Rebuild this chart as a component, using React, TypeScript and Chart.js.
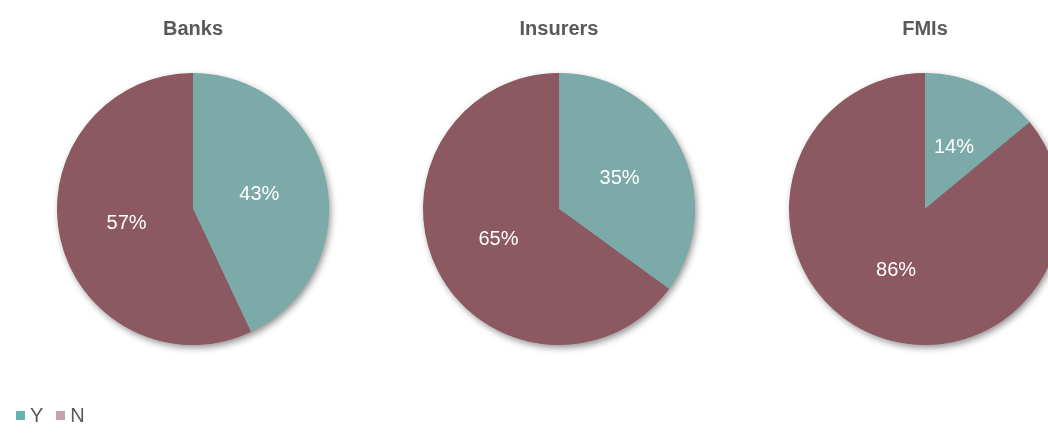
import React, { useEffect, useRef } from "react";
import { Chart, registerables } from "chart.js";

Chart.register(...registerables);

const categories = ["Y", "N"];
const panelTitles = ["Banks", "Insurers", "FMIs"];
const banksValues = [43, 57];
const insurersValues = [35, 65];
const fmisValues = [14, 86];
const panelValues = [banksValues, insurersValues, fmisValues];

const sliceColors = ["#7BAAA8", "#8C5862"];
const legendColors = ["#63B4B0", "#C8A0B2"];
const textGray = "#595959";
const FONT = "'Liberation Sans', Arial, sans-serif";

const PANEL_W = 366;
const PANEL_H = 433;
const PANEL_LEFT = 10;

function PiePanel({ title, values }: { title: string; values: number[] }) {
  const ref = useRef<HTMLCanvasElement | null>(null);
  useEffect(() => {
    if (!ref.current) return;
    const shadowPlugin = {
      id: "pieShadow",
      beforeDatasetsDraw(chart: any) {
        const arc = chart.getDatasetMeta(0).data[0];
        if (!arc) return;
        const { x, y, outerRadius } = arc.getProps(["x", "y", "outerRadius"], true);
        const ctx = chart.ctx;
        ctx.save();
        ctx.shadowColor = "rgba(0,0,0,0.45)";
        ctx.shadowBlur = 7;
        ctx.shadowOffsetX = 2;
        ctx.shadowOffsetY = 3;
        ctx.beginPath();
        ctx.arc(x, y, outerRadius - 0.5, 0, Math.PI * 2);
        ctx.fillStyle = sliceColors[1];
        ctx.fill();
        ctx.restore();
      },
    };
    const labelPlugin = {
      id: "pieLabels",
      afterDatasetsDraw(chart: any) {
        const ctx = chart.ctx;
        const meta = chart.getDatasetMeta(0);
        const data = chart.data.datasets[0].data as number[];
        ctx.save();
        ctx.fillStyle = "#FFFFFF";
        ctx.font = `20px ${FONT}`;
        ctx.textAlign = "center";
        ctx.textBaseline = "middle";
        meta.data.forEach((el: any, i: number) => {
          const p = el.getProps(["x", "y", "startAngle", "endAngle", "outerRadius"], true);
          const mid = (p.startAngle + p.endAngle) / 2;
          const r = p.outerRadius * 0.5;
          ctx.fillText(`${data[i]}%`, p.x + Math.cos(mid) * r, p.y + Math.sin(mid) * r);
        });
        ctx.restore();
      },
    };
    const titlePlugin = {
      id: "panelTitle",
      afterDraw(chart: any) {
        const ctx = chart.ctx;
        const area = chart.chartArea;
        ctx.save();
        ctx.fillStyle = textGray;
        ctx.font = `bold 20px ${FONT}`;
        ctx.textAlign = "center";
        ctx.textBaseline = "middle";
        ctx.fillText(title, (area.left + area.right) / 2, 29);
        ctx.restore();
      },
    };
    const chart = new Chart(ref.current, {
      type: "pie",
      data: {
        labels: categories,
        datasets: [
          {
            data: values,
            backgroundColor: sliceColors,
            borderWidth: 0,
          },
        ],
      },
      options: {
        responsive: false,
        animation: false,
        layout: { padding: { top: 73, bottom: 88, left: 0, right: 0 } },
        plugins: {
          legend: { display: false },
          tooltip: { enabled: false },
          title: { display: false },
        },
      },
      plugins: [shadowPlugin, labelPlugin, titlePlugin],
    });
    return () => chart.destroy();
  }, [title, values]);
  return <canvas ref={ref} width={PANEL_W} height={PANEL_H} style={{ width: PANEL_W, height: PANEL_H, display: "block" }} />;
}

export default function App() {
  return (
    <div
      style={{
        position: "fixed",
        left: 0,
        top: 0,
        width: 1048,
        height: 433,
        overflow: "hidden",
        background: "#FFFFFF",
      }}
    >
      {panelTitles.map((t, i) => (
        <div key={t} style={{ position: "absolute", left: PANEL_LEFT + i * PANEL_W, top: 0 }}>
          <PiePanel title={t} values={panelValues[i]} />
        </div>
      ))}
      <div
        style={{
          position: "absolute",
          left: 16,
          top: 404,
          display: "flex",
          alignItems: "center",
          fontFamily: FONT,
          fontSize: 20,
          color: textGray,
        }}
      >
        {categories.map((c, i) => (
          <span key={c} style={{ display: "flex", alignItems: "center", marginRight: 13 }}>
            <span style={{ width: 9, height: 9, background: legendColors[i], display: "inline-block", marginRight: 5 }} />
            {c}
          </span>
        ))}
      </div>
    </div>
  );
}
